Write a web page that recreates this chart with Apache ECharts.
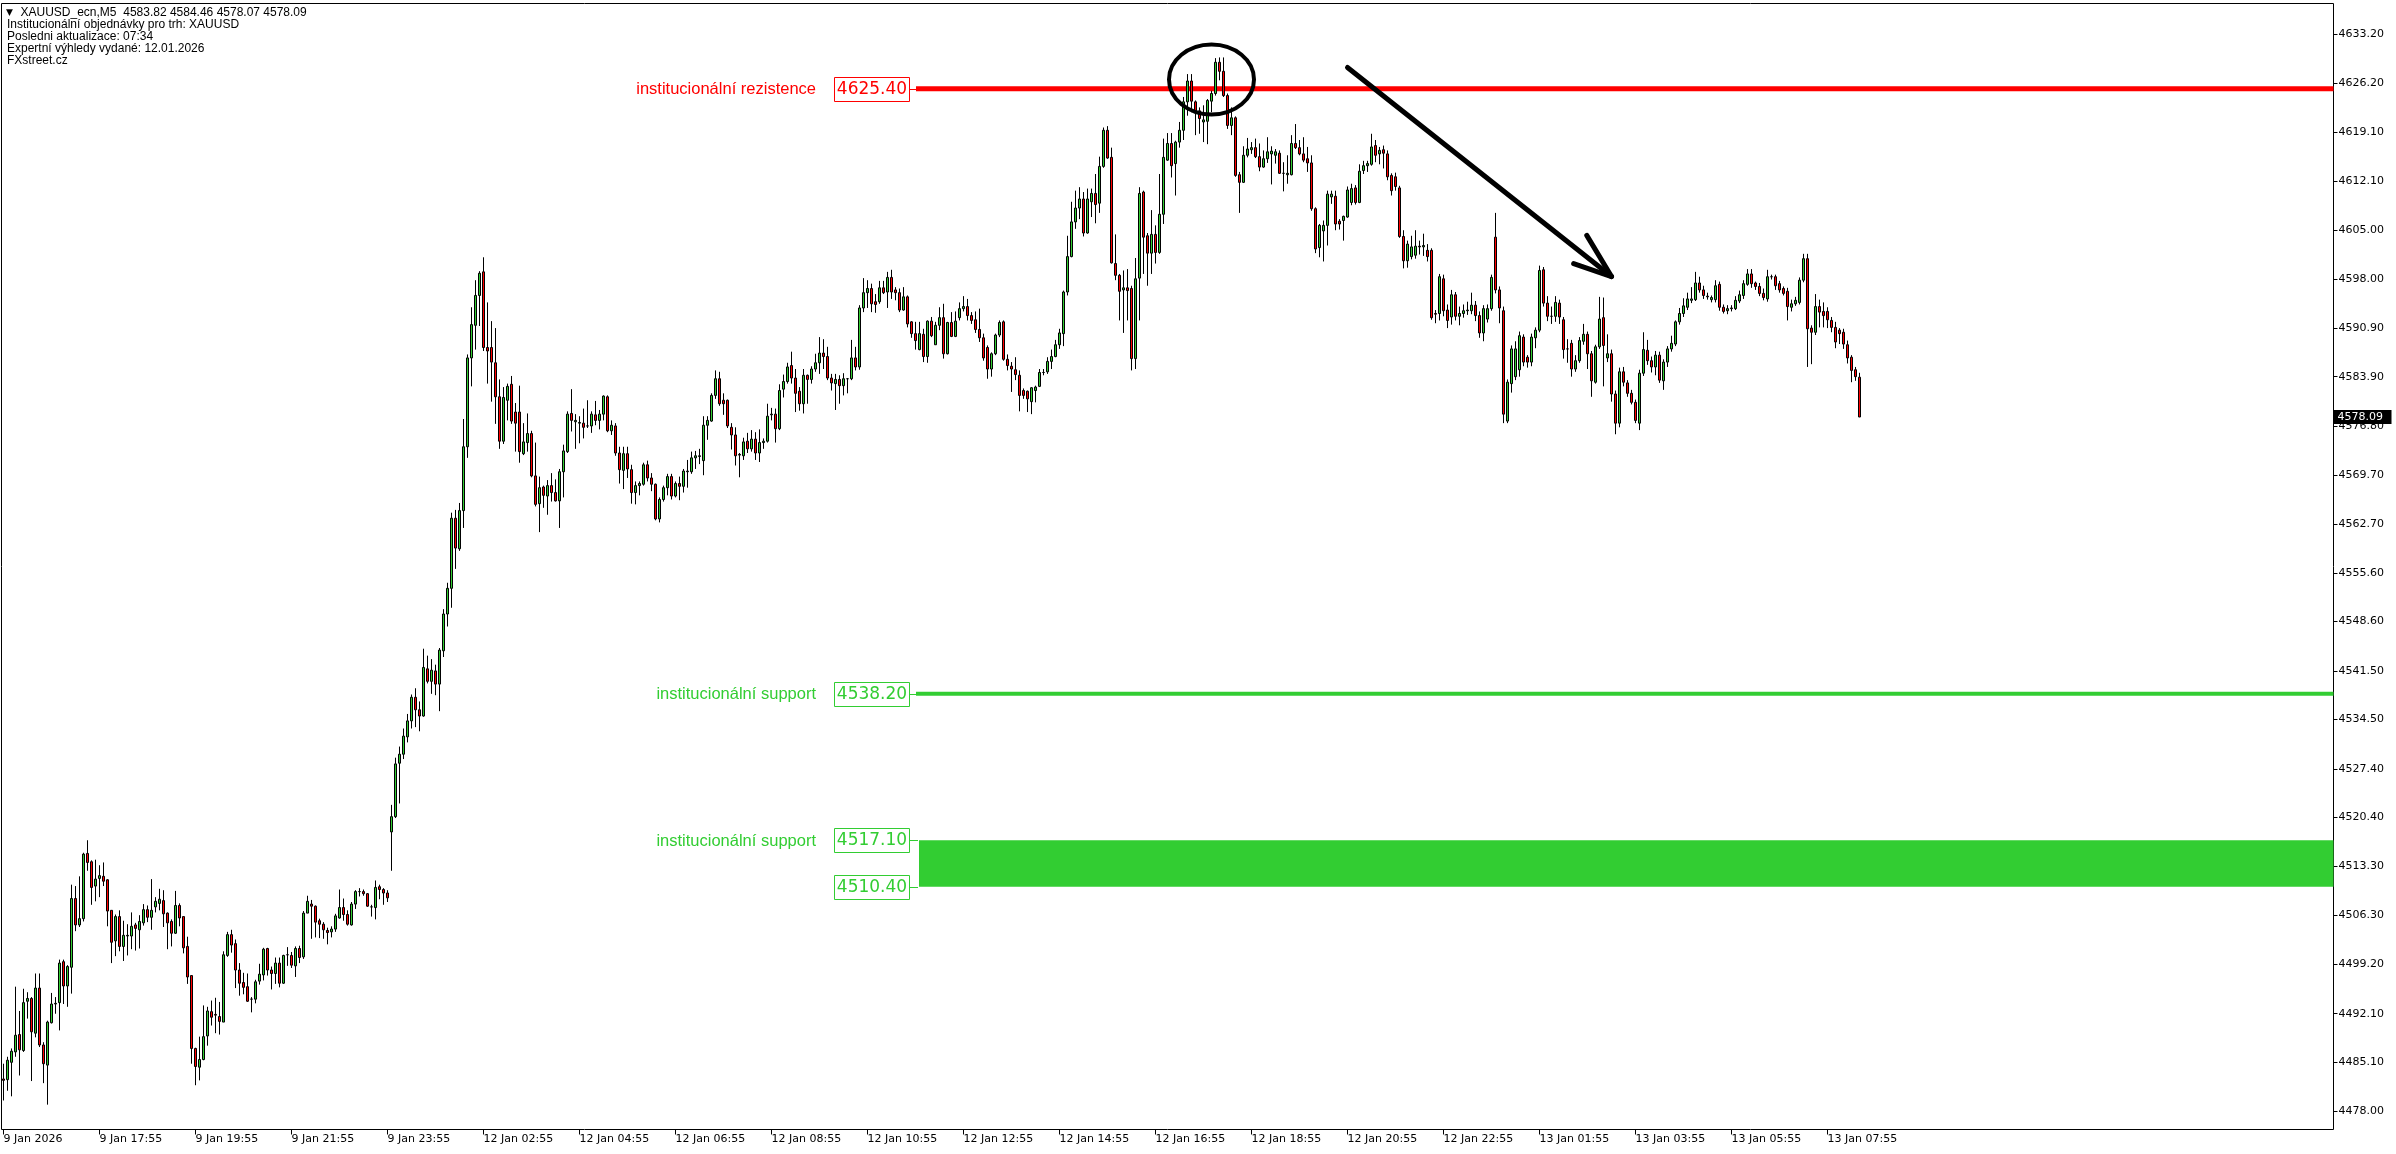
<!DOCTYPE html>
<html>
<head>
<meta charset="utf-8">
<script src="https://cdn.jsdelivr.net/npm/echarts@6/dist/echarts.min.js"></script>
<style>
html, body { margin: 0; padding: 0; background: #fff; }
#chrt_xau { width: 2396px; height: 1154px; }
</style>
</head>
<body>
<div id="chrt_xau"></div>
<script>
// XAUUSD M5 bars, 9 Jan 15:55 -> 13 Jan 08:35 (one value per bar)
const opens = [
4482.7,4482.6,4485.1,4486.6,4489.1,4486.8,4493.9,4494.3,4489.3,4495.8,
4487.6,4484.7,4490.8,4493.5,4493.7,4499.6,4496.1,4498.8,4508.7,4504.9,
4505.8,4515.2,4514.0,4510.5,4511.6,4511.9,4511.4,4507.0,4502.6,4506.1,
4501.8,4503.3,4503.3,4504.9,4504.2,4505.2,4507.1,4506.0,4507.5,4508.0,
4508.4,4506.6,4505.4,4503.7,4507.7,4506.1,4501.8,4497.6,4487.1,4484.4,
4485.5,4488.9,4492.4,4492.0,4491.7,4490.9,4500.5,4503.5,4502.2,4498.4,
4496.6,4496.0,4494.2,4494.2,4496.8,4497.7,4501.5,4498.4,4497.9,4499.4,
4496.5,4500.6,4500.5,4499.0,4501.5,4500.3,4506.6,4507.9,4507.6,4505.5,
4505.0,4504.1,4503.9,4504.3,4505.9,4507.4,4506.4,4504.9,4507.9,4509.7,
4509.7,4509.4,4507.5,4507.4,4510.4,4510.0,4509.5,4518.3,4520.5,4528.2,
4529.5,4532.0,4534.3,4537.7,4535.9,4535.0,4541.8,4540.0,4541.5,4539.6,
4544.4,4549.7,4553.4,4563.5,4559.1,4564.6,4573.8,4586.6,4591.3,4595.6,
4599.0,4588.1,4588.1,4585.9,4581.0,4574.6,4580.5,4582.8,4578.8,4578.8,
4572.8,4574.4,4575.7,4569.6,4565.6,4568.0,4566.7,4568.2,4567.2,4566.0,
4570.2,4573.1,4578.6,4577.4,4577.2,4577.2,4576.8,4576.8,4578.4,4577.6,
4578.5,4581.0,4576.1,4576.8,4572.9,4570.4,4572.8,4570.5,4567.2,4568.2,
4568.4,4571.2,4569.3,4568.4,4563.4,4566.2,4567.9,4569.5,4566.7,4568.5,
4568.1,4570.2,4570.2,4572.2,4572.4,4571.8,4576.9,4577.5,4581.2,4583.6,
4580.5,4580.5,4576.6,4575.5,4572.6,4572.5,4574.6,4573.5,4574.9,4572.9,
4574.4,4574.6,4578.4,4578.5,4576.4,4582.1,4583.2,4585.5,4583.7,4581.8,
4580.0,4584.1,4583.5,4585.0,4585.9,4587.3,4586.8,4583.7,4582.9,4583.5,
4582.6,4583.6,4583.6,4586.6,4585.3,4593.8,4596.0,4596.6,4594.7,4594.7,
4596.7,4596.1,4598.2,4596.4,4596.0,4593.5,4595.4,4591.8,4590.1,4587.8,
4590.0,4586.8,4591.9,4588.5,4591.3,4592.4,4587.2,4591.7,4589.7,4592.4,
4593.7,4594.0,4592.7,4592.1,4590.7,4589.5,4588.1,4585.0,4587.2,4589.9,
4591.8,4586.4,4585.4,4584.9,4584.1,4581.9,4581.8,4580.3,4581.9,4582.5,
4584.5,4584.6,4586.1,4586.8,4588.5,4590.1,4596.1,4601.2,4606.2,4608.2,
4609.5,4604.6,4609.1,4610.3,4608.9,4614.2,4619.4,4615.5,4600.2,4598.5,
4596.4,4596.7,4596.6,4586.5,4598.1,4610.5,4604.2,4601.7,4604.4,4601.8,
4607.3,4615.1,4617.5,4614.6,4617.7,4619.4,4623.5,4626.5,4623.5,4622.2,
4620.6,4620.7,4623.6,4624.7,4629.2,4627.9,4624.4,4620.1,4621.2,4613.0,
4611.9,4615.8,4616.6,4616.9,4615.6,4614.1,4615.3,4616.0,4615.8,4616.1,
4613.2,4613.0,4613.0,4617.5,4616.9,4616.0,4615.3,4614.7,4608.1,4602.5,
4604.9,4605.7,4609.8,4609.9,4606.3,4606.4,4606.9,4609.0,4611.1,4609.0,
4613.6,4614.3,4614.5,4617.2,4616.0,4616.6,4616.0,4612.9,4612.7,4611.1,
4604.1,4600.6,4601.2,4601.4,4602.7,4602.6,4602.1,4602.1,4593.0,4593.0,
4598.0,4593.5,4592.5,4595.7,4592.6,4593.0,4593.4,4593.4,4594.2,4592.7,
4590.2,4592.2,4593.7,4604.0,4596.4,4593.4,4577.5,4582.9,4583.9,4584.9,
4589.6,4586.7,4586.0,4589.5,4590.6,4599.3,4594.5,4592.6,4592.6,4594.5,
4592.1,4587.9,4588.7,4585.0,4586.2,4589.0,4590.0,4587.2,4583.1,4588.2,
4592.4,4586.6,4587.2,4581.4,4577.2,4584.6,4583.0,4581.5,4580.2,4577.2,
4584.4,4587.7,4586.2,4585.3,4587.0,4583.3,4586.0,4587.9,4588.6,4591.8,
4593.0,4593.9,4594.9,4595.0,4597.4,4596.4,4595.5,4595.0,4595.0,4597.2,
4593.9,4593.4,4593.7,4593.7,4594.8,4595.6,4597.2,4598.7,4597.4,4596.9,
4595.9,4595.1,4598.3,4598.3,4597.3,4596.6,4596.2,4593.9,4594.4,4594.6,
4597.8,4600.9,4590.9,4590.3,4594.0,4593.3,4593.3,4592.0,4591.0,4590.6,
4590.3,4588.5,4586.7,4584.9,4583.82
];
const highs = [
4484.9,4485.9,4487.1,4496.0,4492.5,4495.7,4495.2,4494.5,4497.9,4497.9,
4488.0,4491.1,4495.1,4494.5,4499.9,4499.9,4499.1,4510.7,4510.5,4511.9,
4515.3,4517.1,4514.2,4514.3,4513.5,4513.9,4511.5,4507.0,4506.4,4507.0,
4505.5,4505.0,4506.7,4505.2,4506.3,4507.9,4507.7,4511.5,4508.9,4510.1,
4509.9,4506.7,4505.7,4509.8,4508.0,4506.1,4503.2,4497.6,4487.2,4488.8,
4493.3,4493.1,4494.0,4494.4,4493.8,4501.1,4503.9,4504.2,4502.8,4499.4,
4498.0,4497.9,4494.5,4497.0,4499.3,4501.6,4501.6,4498.9,4500.2,4500.2,
4500.6,4501.7,4501.0,4501.8,4501.9,4506.9,4509.1,4508.5,4507.7,4505.8,
4505.3,4504.5,4504.7,4506.5,4510.0,4508.7,4507.0,4508.2,4509.9,4510.2,
4510.0,4509.5,4507.8,4511.3,4510.7,4510.2,4509.9,4522.2,4529.0,4530.6,
4533.2,4535.3,4538.1,4539.0,4537.1,4544.7,4543.7,4543.2,4542.4,4544.8,
4550.4,4554.2,4564.3,4564.7,4565.7,4577.8,4587.1,4593.9,4597.8,4599.1,
4601.1,4594.6,4591.9,4590.9,4583.5,4582.4,4582.9,4584.0,4580.1,4582.6,
4577.2,4578.6,4576.1,4574.4,4569.5,4568.2,4569.0,4570.0,4569.1,4570.6,
4574.1,4578.9,4582.1,4578.5,4578.2,4579.3,4580.5,4578.9,4580.4,4579.1,
4581.2,4581.2,4577.6,4577.2,4573.8,4573.8,4573.8,4571.2,4568.8,4568.8,
4571.5,4571.8,4570.0,4568.5,4566.5,4568.2,4569.9,4569.9,4568.8,4569.5,
4570.6,4571.9,4573.1,4573.2,4573.5,4578.2,4578.2,4581.5,4584.8,4584.6,
4581.5,4580.6,4577.2,4576.6,4572.9,4575.1,4575.8,4576.2,4575.9,4576.3,
4575.0,4580.0,4579.4,4579.3,4582.8,4584.2,4585.9,4587.5,4585.0,4582.4,
4585.0,4584.2,4585.4,4587.2,4589.6,4589.3,4588.2,4584.3,4584.3,4584.1,
4584.4,4583.7,4589.2,4588.2,4594.2,4598.1,4597.8,4597.3,4595.8,4597.7,
4597.7,4599.0,4599.3,4596.8,4596.6,4596.8,4595.6,4591.9,4591.8,4591.8,
4590.8,4592.0,4592.5,4591.8,4593.9,4594.4,4591.8,4593.2,4593.3,4594.6,
4595.5,4595.1,4593.2,4593.3,4593.7,4590.1,4588.4,4587.4,4590.1,4592.0,
4592.0,4587.1,4586.0,4586.7,4584.8,4582.2,4581.9,4582.4,4582.6,4585.0,
4585.0,4586.7,4587.8,4589.2,4590.8,4596.3,4604.2,4609.1,4610.7,4611.2,
4610.5,4611.0,4611.0,4613.1,4615.6,4619.8,4620.0,4616.9,4604.4,4598.7,
4599.2,4599.4,4597.0,4601.0,4611.2,4610.7,4604.6,4607.9,4605.7,4613.1,
4618.2,4619.0,4619.0,4617.9,4620.6,4624.2,4627.5,4627.5,4623.7,4622.7,
4623.0,4623.9,4625.1,4629.8,4629.9,4629.9,4624.7,4622.7,4621.4,4613.4,
4617.1,4618.3,4617.7,4618.2,4617.5,4616.5,4618.4,4617.1,4616.7,4616.5,
4614.8,4615.8,4618.7,4620.3,4618.0,4618.4,4617.0,4615.8,4608.3,4605.9,
4606.4,4610.7,4610.7,4610.7,4606.6,4607.1,4611.3,4611.7,4611.5,4614.5,
4615.0,4615.0,4618.9,4618.0,4617.0,4617.2,4616.5,4613.2,4613.3,4611.4,
4605.0,4603.5,4604.2,4605.0,4603.5,4604.5,4603.0,4602.4,4593.5,4598.7,
4598.6,4594.3,4596.4,4596.1,4594.0,4594.3,4594.7,4596.0,4594.8,4593.3,
4594.2,4594.3,4598.6,4607.5,4596.9,4594.0,4583.5,4588.4,4589.0,4590.4,
4590.0,4587.0,4590.1,4591.0,4599.9,4599.7,4595.5,4594.0,4595.5,4595.0,
4592.5,4589.3,4589.2,4587.0,4589.6,4591.5,4590.4,4587.6,4588.5,4595.4,
4595.3,4590.0,4587.8,4581.9,4585.2,4585.3,4583.4,4582.0,4580.6,4584.9,
4590.3,4589.2,4586.8,4587.6,4587.5,4586.4,4588.3,4589.8,4592.0,4593.8,
4595.2,4596.0,4596.8,4599.0,4598.3,4597.0,4596.0,4595.6,4597.8,4597.6,
4594.3,4594.2,4594.2,4595.5,4596.3,4597.8,4599.4,4599.4,4597.6,4597.4,
4596.6,4599.3,4598.6,4598.6,4597.7,4596.9,4596.7,4595.0,4595.4,4598.2,
4601.6,4601.6,4591.3,4595.8,4595.0,4594.6,4593.9,4592.5,4591.8,4590.9,
4590.8,4589.1,4587.0,4585.3,4584.46
];
const lows = [
4479.6,4481.0,4480.2,4485.9,4483.2,4486.6,4491.4,4482.4,4488.7,4487.3,
4482.1,4479.0,4490.7,4492.1,4489.7,4493.5,4493.1,4495.0,4504.0,4504.6,
4505.4,4512.7,4507.8,4508.3,4508.9,4510.5,4504.7,4499.4,4500.4,4501.1,
4499.7,4500.5,4501.4,4501.2,4501.5,4504.8,4505.3,4504.2,4506.7,4507.0,
4504.6,4501.4,4501.8,4503.6,4504.7,4500.8,4496.4,4484.9,4481.8,4482.5,
4485.4,4487.5,4490.4,4489.3,4489.1,4490.9,4500.3,4500.9,4495.8,4494.7,
4494.9,4493.8,4492.3,4493.6,4496.3,4496.9,4497.6,4495.6,4496.4,4495.9,
4496.4,4499.0,4498.7,4497.4,4499.4,4500.0,4506.6,4502.9,4503.1,4503.0,
4502.9,4502.1,4503.1,4503.9,4505.8,4505.5,4504.8,4504.8,4507.2,4509.0,
4509.1,4507.5,4506.1,4505.7,4508.6,4507.8,4508.2,4512.7,4520.3,4522.4,
4528.8,4531.2,4533.2,4533.4,4532.8,4534.9,4539.7,4538.2,4538.0,4535.7,
4543.5,4547.9,4550.6,4556.2,4558.8,4562.1,4572.2,4582.5,4587.8,4591.2,
4587.6,4582.9,4580.3,4577.1,4573.5,4574.2,4577.6,4577.1,4573.1,4571.5,
4572.6,4573.1,4569.4,4565.2,4561.5,4565.0,4564.0,4565.9,4565.9,4562.1,
4566.5,4572.9,4576.0,4573.5,4574.3,4575.0,4576.5,4575.8,4576.9,4576.3,
4577.6,4575.9,4575.5,4572.5,4568.5,4567.7,4569.3,4565.6,4565.5,4566.8,
4568.2,4568.8,4567.4,4563.2,4562.9,4565.9,4566.8,4566.2,4566.5,4566.1,
4567.2,4567.9,4569.9,4570.6,4571.3,4569.7,4574.8,4577.4,4580.7,4579.7,
4578.4,4576.5,4573.4,4571.1,4569.4,4571.9,4572.9,4573.1,4571.9,4571.6,
4573.5,4574.4,4577.6,4574.4,4576.2,4580.9,4582.9,4582.9,4578.8,4579.0,
4578.6,4580.0,4582.9,4584.6,4584.3,4585.0,4583.4,4581.9,4579.1,4580.0,
4581.2,4581.5,4583.4,4584.8,4584.9,4593.2,4593.8,4593.2,4593.1,4594.4,
4595.8,4593.8,4595.1,4594.9,4593.2,4593.4,4591.0,4589.5,4587.8,4587.7,
4586.0,4585.9,4589.6,4588.5,4590.6,4586.5,4587.1,4589.6,4589.6,4592.0,
4593.3,4592.0,4591.5,4590.2,4588.9,4586.2,4583.6,4583.9,4587.0,4589.6,
4586.2,4584.8,4581.7,4583.4,4578.9,4580.7,4578.8,4578.5,4580.2,4582.4,
4584.1,4584.3,4585.0,4586.7,4587.9,4588.3,4595.6,4601.1,4605.2,4606.6,
4604.1,4604.5,4606.9,4606.0,4607.5,4614.0,4615.3,4600.2,4597.8,4592.0,
4590.2,4592.0,4584.8,4585.0,4592.0,4598.7,4597.0,4598.7,4600.2,4601.6,
4605.9,4615.0,4612.6,4610.0,4616.9,4618.0,4621.5,4622.0,4618.7,4618.9,
4617.7,4617.4,4622.0,4624.4,4626.6,4624.2,4619.6,4618.7,4612.7,4607.5,
4611.8,4615.5,4616.0,4615.4,4613.5,4614.0,4614.7,4611.6,4614.6,4613.1,
4610.6,4611.7,4612.9,4616.7,4615.8,4614.8,4613.4,4607.8,4601.7,4601.1,
4600.5,4602.8,4608.8,4605.0,4605.1,4603.5,4606.8,4608.6,4608.7,4608.9,
4613.1,4613.4,4614.3,4614.8,4614.5,4613.9,4612.2,4610.0,4610.7,4603.9,
4599.5,4599.6,4600.8,4600.9,4601.5,4601.3,4600.5,4592.1,4591.6,4592.0,
4592.6,4590.9,4591.4,4592.0,4591.3,4592.4,4592.8,4592.9,4591.9,4589.5,
4589.0,4591.7,4593.4,4595.9,4591.6,4577.2,4577.2,4581.6,4583.4,4583.9,
4585.4,4585.2,4585.4,4588.0,4590.3,4594.0,4591.9,4591.5,4591.8,4591.5,
4586.5,4585.9,4583.9,4584.6,4585.9,4588.5,4585.0,4581.0,4582.9,4587.9,
4582.5,4586.0,4580.3,4575.6,4576.6,4582.5,4581.0,4579.9,4577.2,4576.2,
4584.0,4585.6,4584.5,4584.1,4583.0,4582.0,4585.3,4587.5,4588.3,4591.4,
4592.5,4593.5,4594.5,4594.8,4596.0,4595.1,4595.0,4594.6,4594.6,4593.4,
4593.0,4592.9,4593.3,4593.5,4594.5,4595.1,4597.0,4596.7,4596.4,4595.5,
4594.9,4594.7,4597.9,4596.4,4596.0,4595.6,4592.0,4593.3,4594.1,4594.3,
4597.5,4585.3,4585.7,4589.9,4591.0,4591.0,4590.9,4590.3,4588.0,4588.6,
4587.9,4585.8,4583.1,4583.3,4578.07
];
const closes = [
4482.5,4485.4,4486.7,4489.0,4486.9,4493.7,4494.3,4489.5,4495.8,4487.6,
4484.9,4490.9,4493.5,4493.6,4499.4,4496.1,4498.9,4508.7,4504.9,4505.8,
4515.1,4513.9,4510.3,4511.5,4512.0,4511.2,4506.9,4502.4,4506.1,4501.8,
4503.4,4503.4,4504.7,4504.4,4505.4,4507.1,4506.0,4507.0,4508.3,4508.6,
4506.5,4505.2,4503.7,4507.7,4505.9,4501.6,4497.4,4487.1,4484.5,4485.5,
4488.8,4492.5,4491.6,4491.9,4491.0,4500.6,4503.5,4502.0,4498.4,4496.5,
4495.9,4493.9,4494.2,4496.7,4497.8,4501.4,4498.4,4497.9,4499.4,4496.5,
4500.5,4500.6,4499.1,4501.5,4500.2,4506.6,4508.3,4507.6,4505.3,4505.0,
4504.2,4503.8,4504.3,4506.2,4507.4,4506.4,4505.0,4507.9,4509.7,4509.7,
4509.4,4507.6,4507.5,4510.3,4510.0,4509.5,4508.8,4520.5,4528.1,4529.5,
4532.1,4534.3,4537.7,4535.9,4535.0,4542.0,4540.0,4541.6,4539.6,4544.5,
4549.7,4553.4,4563.5,4559.2,4564.6,4573.8,4586.6,4591.4,4595.6,4598.8,
4588.1,4587.6,4586.0,4581.0,4574.6,4580.9,4582.5,4577.5,4577.2,4573.1,
4574.5,4575.7,4569.6,4565.5,4567.9,4566.8,4568.2,4567.2,4566.0,4570.2,
4573.2,4578.5,4577.6,4577.6,4577.3,4576.6,4576.8,4578.5,4577.6,4578.5,
4581.1,4576.1,4576.9,4572.9,4570.5,4572.8,4570.6,4567.2,4568.2,4568.5,
4571.2,4569.3,4568.4,4563.4,4566.2,4567.9,4569.5,4566.7,4568.5,4568.1,
4570.3,4570.3,4572.2,4572.5,4572.5,4576.9,4577.6,4581.2,4583.6,4580.0,
4580.0,4576.8,4575.5,4572.5,4572.7,4574.5,4573.5,4574.9,4572.9,4574.4,
4574.6,4578.2,4578.5,4576.4,4581.9,4583.2,4585.3,4583.7,4581.5,4580.0,
4584.1,4583.5,4585.0,4585.9,4587.3,4586.8,4583.7,4583.0,4583.5,4582.6,
4583.6,4583.6,4586.6,4585.3,4593.8,4596.0,4596.6,4594.4,4594.3,4596.7,
4596.0,4598.2,4596.1,4596.0,4593.5,4595.4,4591.5,4590.1,4589.1,4590.1,
4586.8,4591.9,4589.8,4591.3,4592.4,4587.2,4591.7,4589.7,4591.9,4593.7,
4594.0,4592.7,4592.0,4590.7,4589.5,4586.6,4585.0,4587.2,4589.9,4591.7,
4586.4,4585.5,4585.0,4584.2,4581.2,4581.2,4580.7,4582.3,4582.4,4584.5,
4584.5,4586.1,4586.8,4588.5,4590.2,4596.1,4601.2,4606.2,4608.2,4609.5,
4604.6,4609.5,4610.3,4608.7,4614.2,4619.4,4615.4,4600.3,4598.5,4596.2,
4596.7,4596.3,4586.5,4598.0,4610.3,4604.0,4601.7,4604.4,4601.8,4607.3,
4615.5,4617.5,4614.3,4617.7,4619.4,4623.5,4626.5,4623.6,4622.0,4621.1,
4620.9,4623.7,4624.7,4629.2,4627.9,4624.4,4620.1,4621.2,4612.9,4611.9,
4615.8,4616.7,4616.9,4615.6,4614.1,4615.3,4616.3,4616.4,4616.3,4613.2,
4613.2,4613.2,4617.5,4616.9,4616.0,4615.1,4614.7,4608.1,4602.3,4605.7,
4605.7,4610.2,4610.2,4605.9,4605.9,4607.0,4610.8,4611.0,4609.0,4613.5,
4614.3,4614.6,4617.0,4615.8,4616.5,4616.1,4612.7,4610.7,4611.3,4604.1,
4600.6,4603.0,4602.6,4602.7,4602.6,4602.8,4601.2,4592.4,4592.9,4598.3,
4593.4,4592.0,4595.7,4592.6,4593.0,4593.4,4593.5,4594.2,4592.7,4590.2,
4593.7,4593.7,4598.2,4596.4,4593.8,4578.5,4583.1,4587.9,4587.9,4589.8,
4586.0,4586.0,4589.6,4590.6,4599.2,4594.5,4592.6,4592.6,4594.6,4592.5,
4587.8,4587.9,4585.0,4586.2,4589.1,4590.0,4587.2,4583.3,4588.2,4592.2,
4588.4,4587.2,4581.4,4577.2,4584.6,4583.1,4581.5,4580.2,4577.6,4584.4,
4587.8,4586.2,4585.3,4587.0,4583.4,4586.0,4587.9,4588.7,4591.8,4593.0,
4594.1,4595.1,4595.1,4597.4,4596.4,4595.6,4595.4,4595.3,4597.0,4593.9,
4593.3,4593.7,4593.8,4594.9,4595.7,4597.3,4598.7,4597.3,4596.9,4595.9,
4595.3,4598.3,4598.3,4597.0,4596.4,4595.9,4594.0,4594.4,4594.9,4597.8,
4600.9,4590.8,4590.3,4594.0,4593.2,4592.7,4592.1,4591.0,4588.9,4590.1,
4588.6,4586.6,4584.8,4583.9,4578.09
];

// x axis: one label every 24 bars
const tickLabels = [ '9 Jan 2026', '9 Jan 17:55', '9 Jan 19:55', '9 Jan 21:55', '9 Jan 23:55',
    '12 Jan 02:55', '12 Jan 04:55', '12 Jan 06:55', '12 Jan 08:55', '12 Jan 10:55', '12 Jan 12:55',
    '12 Jan 14:55', '12 Jan 16:55', '12 Jan 18:55', '12 Jan 20:55', '12 Jan 22:55',
    '13 Jan 01:55', '13 Jan 03:55', '13 Jan 05:55', '13 Jan 07:55' ];
const tickStep = 24;
const slotCount = 583;   // visible bar slots incl. chart shift

// y axis price scale
const yTicks = [ 4478.00, 4485.10, 4492.10, 4499.20, 4506.30, 4513.30, 4520.40, 4527.40, 4534.50,
    4541.50, 4548.60, 4555.60, 4562.70, 4569.70, 4576.80, 4583.90, 4590.90, 4598.00, 4605.00,
    4612.10, 4619.10, 4626.20, 4633.20 ];
const yMin = 4475.42, yMax = 4637.67;

// institutional levels
const resistPrice = 4625.40;
const supportPrice = 4538.20;
const zoneTop = 4517.10, zoneBottom = 4510.40;
const levelStartBar = 227.5;
const resistText = 'institucionální rezistence';
const supportText = 'institucionální support';

// hand drawn marks (bar index, price)
const circleAt = [ 301.55, 4626.72 ];
const arrowFrom = [ 335.5, 4628.45 ];
const arrowTo = [ 402.25, 4598.33 ];

const infoLines = [
    'XAUUSD_ecn,M5  4583.82 4584.46 4578.07 4578.09',
    'Institucionální objednávky pro trh: XAUUSD',
    'Posledni aktualizace: 07:34',
    'Expertní výhledy vydané: 12.01.2026',
    'FXstreet.cz'
];

const RED = '#ff0000', GREEN = '#32cd32';
// half pixel offsets keep 1px strokes and 4px bar slots crisp
const G = { left: 1.5, top: 3.5, width: 2332, height: 1126 };

const cats = Array.from({ length: slotCount }, (_, i) =>
    (i % tickStep === 0 && tickLabels[i / tickStep]) ? tickLabels[i / tickStep] : '');
const showTick = (i, v) => v !== '';
const candles = opens.map((o, i) => [ o, closes[i], lows[i], highs[i] ]);

const chart = echarts.init(document.getElementById('chrt_xau'));
chart.setOption({
    animation: false,
    backgroundColor: '#fff',
    grid: { left: G.left, top: G.top, width: G.width, height: G.height,
        show: true, borderColor: '#000', borderWidth: 1, backgroundColor: '#fff' },
    xAxis: {
        type: 'category', data: cats, boundaryGap: true,
        axisLine: { show: false },
        axisTick: { show: true, interval: showTick, alignWithLabel: true, length: 5, lineStyle: { color: '#000' } },
        axisLabel: { interval: showTick, align: 'left', margin: 4, color: '#000',
            fontFamily: 'DejaVu Sans', fontSize: 11 },
        splitLine: { show: false }
    },
    yAxis: {
        type: 'value', position: 'right', min: yMin, max: yMax, scale: true,
        axisLine: { show: false },
        axisTick: { show: true, customValues: yTicks, length: 4, lineStyle: { color: '#000' } },
        axisLabel: { customValues: yTicks, formatter: v => v.toFixed(2), margin: 5, color: '#000',
            fontFamily: 'DejaVu Sans', fontSize: 11 },
        splitLine: { show: false }
    },
    series: [{
        type: 'candlestick', data: candles, barWidth: 2, z: 3,
        itemStyle: { color: GREEN, color0: RED, borderColor: '#000', borderColor0: '#000', borderWidth: 1 }
    }]
});

const px = (bar, price) => chart.convertToPixel({ gridIndex: 0 }, [ bar, price ]);
const right = G.left + G.width;
const anchorX = Math.round(px(levelStartBar, yMin)[0]);
const g = [];

function txt(x, y, text, font, fill, align, z) {
    g.push({ type: 'text', z: z || 20, style: { x, y, text, font, fill,
        textAlign: align || 'left', align: align || 'left', textVerticalAlign: 'middle', verticalAlign: 'middle' } });
}
function priceBox(y, price, color) {
    const bx = anchorX - 82;
    g.push({ type: 'rect', z: 15, shape: { x: bx + 0.5, y: Math.round(y) - 11.5, width: 75, height: 24 },
        style: { fill: '#fff', stroke: color, lineWidth: 1 } });
    g.push({ type: 'line', z: 15, shape: { x1: bx + 75.5, y1: Math.round(y) + 0.5, x2: anchorX + 2, y2: Math.round(y) + 0.5 },
        style: { stroke: color, lineWidth: 1 } });
    txt(bx + 38, Math.round(y) + 1, price.toFixed(2), '17px "DejaVu Sans"', color, 'center');
}
function levelLabel(y, text, color) {
    txt(anchorX - 100, y + 1, text, '16.5px "Liberation Sans"', color, 'right');
}

// resistance
const yR = px(0, resistPrice)[1];
g.push({ type: 'line', z: 1, shape: { x1: anchorX, y1: yR, x2: right, y2: yR }, style: { stroke: RED, lineWidth: 5 } });
priceBox(yR, resistPrice, RED);
levelLabel(yR, resistText, RED);

// support line
const yS = px(0, supportPrice)[1];
g.push({ type: 'line', z: 1, shape: { x1: anchorX, y1: yS, x2: right, y2: yS }, style: { stroke: GREEN, lineWidth: 4 } });
priceBox(yS, supportPrice, GREEN);
levelLabel(yS, supportText, GREEN);

// support zone
const yT = px(0, zoneTop)[1], yB = px(0, zoneBottom)[1];
g.push({ type: 'rect', z: 1, shape: { x: anchorX + 3, y: yT, width: right - anchorX - 3, height: yB - yT }, style: { fill: GREEN } });
priceBox(yT, zoneTop, GREEN);
priceBox(yB, zoneBottom, GREEN);
levelLabel(yT, supportText, GREEN);

// circle around the top
const c = px(circleAt[0], circleAt[1]);
g.push({ type: 'ellipse', z: 12, shape: { cx: c[0], cy: c[1], rx: 42.5, ry: 35 },
    style: { fill: 'none', stroke: '#000', lineWidth: 4 } });

// arrow
const a0 = px(arrowFrom[0], arrowFrom[1]), a1 = px(arrowTo[0], arrowTo[1]);
const ang = Math.atan2(a0[1] - a1[1], a0[0] - a1[0]);
g.push({ type: 'line', z: 12, shape: { x1: a0[0], y1: a0[1], x2: a1[0], y2: a1[1] },
    style: { stroke: '#000', lineWidth: 5, lineCap: 'round' } });
[ 0.36, -0.34 ].forEach((d, k) => {
    const len = k === 0 ? 48 : 40;
    g.push({ type: 'line', z: 12, shape: { x1: a1[0], y1: a1[1],
        x2: a1[0] + len * Math.cos(ang + d), y2: a1[1] + len * Math.sin(ang + d) },
        style: { stroke: '#000', lineWidth: 5, lineCap: 'round' } });
});

// last price tag on the axis
const lastClose = closes[closes.length - 1];
const yL = Math.round(px(0, lastClose)[1]);
g.push({ type: 'rect', z: 30, shape: { x: right, y: yL - 7, width: 58, height: 14 }, style: { fill: '#000' } });
txt(right + 4, yL, lastClose.toFixed(2), '11px "DejaVu Sans"', '#fff', 'left', 31);

// info block top left
txt(6, 12.5, '▼', '9px "DejaVu Sans"', '#000');
infoLines.forEach((s, i) => txt(i === 0 ? 20.5 : 7, 12.5 + i * 12.1, s, '12px "Liberation Sans"', '#000'));

chart.setOption({ graphic: g });
</script>
</body>
</html>
